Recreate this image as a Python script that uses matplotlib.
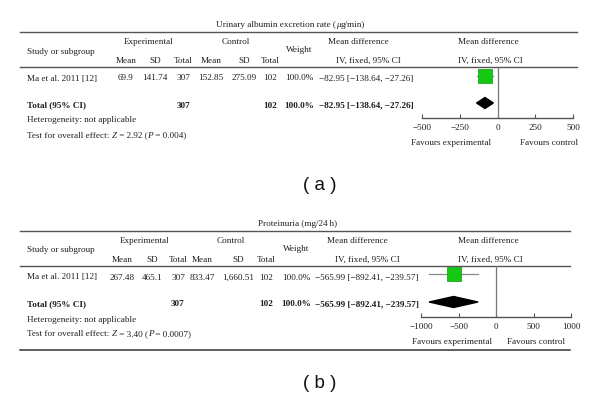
import matplotlib.pyplot as plt
from matplotlib.patches import Polygon

# ---- data -------------------------------------------------------------
study = "Ma et al. 2011 [12]"

# title pieces: (text, italic)
titles = [
    [("Urinary albumin excretion rate (", False), ("\u03bc", True), ("g/min)", False)],
    [("Proteinuria (mg/24\u2009h)", False)],
]
panel_labels = ["( a )", "( b )"]

exp_mean = ["69.9", "267.48"]
exp_sd = ["141.74", "465.1"]
exp_n = [307, 307]
ctl_mean = ["152.85", "833.47"]
ctl_sd = ["275.09", "1,660.51"]
ctl_n = [102, 102]
weight = [100.0, 100.0]

md = [-82.95, -565.99]
md_lo = [-138.64, -892.41]
md_hi = [-27.26, -239.57]

z_vals = ["2.92", "3.40"]
p_vals = ["0.004", "0.0007"]

axis_lim = [500, 1000]
axis_ticks = [[-500, -250, 0, 250, 500], [-1000, -500, 0, 500, 1000]]

# ---- layout -----------------------------------------------------------
W, H = 600, 401
SERIF = ["Liberation Serif", "DejaVu Serif"]
FS = 6.6
TXT = "#1e1e1e"
LINE = "#555555"
GREEN = "#14c814"

# per-panel column centres (px) and vertical offset
cols = [
    dict(mean=126, sd=155, n=183.5, cmean=211, csd=244, cn=270, w=299.5,
         md_x=319, md=366, title_x=216, exp=149, ctl=236, ax_l=422, ax_r=573,
         fav_l=451.5, fav_r=549.5, line_r=577, dy=0, bottom=False),
    dict(mean=122.5, sd=152, n=178, cmean=202.5, csd=238, cn=266, w=296,
         md_x=315, md=365, title_x=258, exp=145, ctl=231, ax_l=421, ax_r=571,
         fav_l=452, fav_r=536, line_r=570, dy=199, bottom=True),
]

fig = plt.figure(figsize=(W / 100, H / 100), dpi=100)
bg = fig.add_axes([0, 0, 1, 1])
bg.set_xlim(0, W)
bg.set_ylim(H, 0)
bg.axis("off")


def txt(x, y, s, ha="center", bold=False, size=FS):
    return bg.text(x, y, s, ha=ha, va="center", fontsize=size, color=TXT,
                   family=SERIF, fontweight="bold" if bold else "normal")


def chain(x, y, pieces):
    # left-aligned run of text pieces, some in italics
    prev = None
    for s, italic in pieces:
        style = "italic" if italic else "normal"
        if prev is None:
            prev = bg.text(x, y, s, ha="left", va="center", fontsize=FS,
                           color=TXT, family=SERIF, style=style)
        else:
            prev = bg.annotate(s, xy=(1, 0), xycoords=prev, ha="left",
                               va="bottom", fontsize=FS, color=TXT,
                               family=SERIF, style=style)


for i, c in enumerate(cols):
    dy = c["dy"]
    # title and rules
    chain(c["title_x"], 25 + dy, titles[i])
    bg.plot([20, c["line_r"]], [32 + dy, 32 + dy], color=LINE, lw=1.0)
    bg.plot([20, c["line_r"]], [67 + dy, 67 + dy], color=LINE, lw=1.0)
    if c["bottom"]:
        bg.plot([20, c["line_r"]], [350, 350], color="#333333", lw=1.1)

    # headers
    txt(27, 51.5 + dy, "Study or subgroup", ha="left")
    txt(c["exp"], 42 + dy, "Experimental")
    txt(c["ctl"], 42 + dy, "Control")
    txt(c["w"], 50 + dy, "Weight")
    txt(c["md"] - 8, 42 + dy, "Mean difference")
    txt(c["md"] + 2, 61 + dy, "IV, fixed, 95% CI")
    txt(488, 42 + dy, "Mean difference")
    txt(490, 61 + dy, "IV, fixed, 95% CI")
    for key, lab in [("mean", "Mean"), ("sd", "SD"), ("n", "Total"),
                     ("cmean", "Mean"), ("csd", "SD"), ("cn", "Total")]:
        txt(c[key], 61 + dy, lab)

    # study row
    y = 78.5 + dy
    txt(27, y, study, ha="left")
    txt(c["mean"], y, exp_mean[i])
    txt(c["sd"], y, exp_sd[i])
    txt(c["n"], y, str(exp_n[i]))
    txt(c["cmean"], y, ctl_mean[i])
    txt(c["csd"], y, ctl_sd[i])
    txt(c["cn"], y, str(ctl_n[i]))
    txt(c["w"], y, f"{weight[i]:.1f}%")
    ci = f"{md[i]:.2f} [{md_lo[i]:.2f}, {md_hi[i]:.2f}]".replace("-", "\u2212")
    txt(c["md_x"], y, ci, ha="left")

    # total row
    y = 105.5 + dy
    txt(27, y, "Total (95% CI)", ha="left", bold=True)
    txt(c["n"], y, str(exp_n[i]), bold=True)
    txt(c["cn"], y, str(ctl_n[i]), bold=True)
    txt(c["w"], y, f"{weight[i]:.1f}%", bold=True)
    txt(c["md_x"], y, ci, ha="left", bold=True)

    txt(27, 120.5 + dy, "Heterogeneity: not applicable", ha="left")
    chain(27, 135.5 + dy, [("Test for overall effect: ", False), ("Z", True),
                           (f" = {z_vals[i]} (", False), ("P", True),
                           (f" = {p_vals[i]})", False)])

    txt(c["fav_l"], 143 + dy, "Favours experimental")
    txt(c["fav_r"], 143 + dy, "Favours control")

    bg.text(320, 185 + dy, panel_labels[i], ha="center", va="center",
            fontsize=13.5, color="#111111", family="Liberation Sans")

    # forest plot axes (y in pixel units, x in data units)
    top, bot = 67 + dy, 118 + dy
    ax = fig.add_axes([c["ax_l"] / W, 1 - bot / H,
                       (c["ax_r"] - c["ax_l"]) / W, (bot - top) / H])
    ax.set_xlim(-axis_lim[i], axis_lim[i])
    ax.set_ylim(bot, top)
    ax.patch.set_visible(False)
    for s in ["top", "left", "right"]:
        ax.spines[s].set_visible(False)
    ax.spines["bottom"].set_color(LINE)
    ax.spines["bottom"].set_linewidth(1.0)
    ax.set_yticks([])
    ax.set_xticks(axis_ticks[i])
    ax.tick_params(axis="x", direction="in", length=3, width=0.8,
                   color=LINE, pad=4.5, labelsize=FS, labelcolor=TXT)
    for lab in ax.get_xticklabels():
        lab.set_family(SERIF)
    ax.axvline(0, color="#777777", lw=0.9)

    ys = 75.5 + dy
    ax.plot([md_lo[i], md_hi[i]], [ys, ys], color="#888888", lw=0.9)
    ax.plot([md[i]], [ys], marker="s", ms=10.3, color=GREEN,
            mec="#0c9c0c", mew=0.5, clip_on=False)

    yd = 103 + dy
    ax.add_patch(Polygon([(md_lo[i], yd), (md[i], yd - 5.5),
                          (md_hi[i], yd), (md[i], yd + 5.5)],
                         closed=True, color="black"))

fig.savefig("out.png", dpi=100)
